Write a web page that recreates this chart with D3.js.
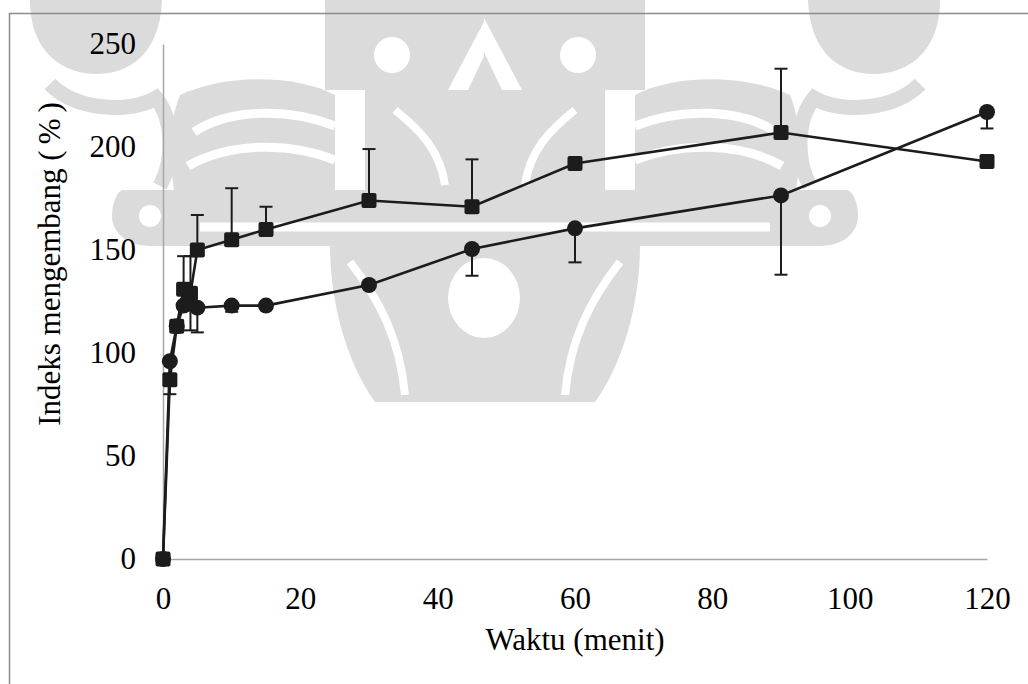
<!DOCTYPE html>
<html>
<head>
<meta charset="utf-8">
<script src="https://cdn.jsdelivr.net/npm/d3@7"></script>
<style>
  html, body { margin: 0; padding: 0; background: #fff; }
  svg { display: block; }
  text { font-family: "Liberation Serif", "Times New Roman", serif; fill: #000; }
</style>
</head>
<body>
<svg id="chart" width="1028" height="684"></svg>
<script>
// Swelling index over time, two formulations (mean with one-sided SD bars)
const times        = [0, 1, 2, 3, 4, 5, 10, 15, 30, 45, 60, 90, 120];
const squareValues = [0, 87, 113, 131, 129, 150, 155, 160, 174, 171, 192, 207, 193];
const squareErrors = [0, 0, 0, 16, 18, 17, 25, 11, 25, 23, 0, 31, 0];
const circleValues = [0, 96, 113, 123, 124, 122, 123, 123, 133, 150.5, 160.5, 176.5, 217];
const circleErrors = [0, 16, 0, 0, 13, 12, 3, 0, 0, 13, 16.5, 38.5, 8];

const xTicks = [0, 20, 40, 60, 80, 100, 120];
const yTicks = [0, 50, 100, 150, 200, 250];

const xTitle = "Waktu (menit)";
const yTitle = "Indeks mengembang ";
const yUnit  = ["(", "%", ")"];

const svg = d3.select("#chart");
const W = 1028, H = 684;
const FONT = 31;

const x = d3.scaleLinear().domain([0, 120]).range([163, 987]);
const y = d3.scaleLinear().domain([0, 250]).range([559, 44]);

// ---- light grey emblem behind the plot ----
const wm = svg.append("g").attr("class", "emblem");
function emblemHalf(g) {
  const grey = "#dbdbdb";
  g.append("path").attr("fill", grey)
    .attr("d", "M30,0 C30,55 66,74 96,74 C128,74 160,55 162,0 Z");
  g.append("path").attr("fill", "none").attr("stroke", grey).attr("stroke-width", 15)
    .attr("d", "M50,84 C75,110 130,114 156,98 C174,120 174,160 160,186");
  g.append("path").attr("fill", grey)
    .attr("d", "M180,95 C230,72 300,76 335,95 L335,190 L174,190 C168,150 170,120 180,95 Z");
  g.append("path").attr("fill", "none").attr("stroke", "#fff").attr("stroke-width", 9)
    .attr("d", "M194,132 C230,108 290,108 335,126");
  g.append("path").attr("fill", "none").attr("stroke", "#fff").attr("stroke-width", 9)
    .attr("d", "M188,166 C230,142 290,142 335,160");
  g.append("path").attr("fill", grey)
    .attr("d", "M122,190 L486,190 L486,246 L150,246 C126,246 112,232 112,216 C112,202 117,193 122,190 Z");
  g.append("circle").attr("cx", 150).attr("cy", 216).attr("r", 11).attr("fill", "#fff");
  g.append("path").attr("fill", "none").attr("stroke", "#fff").attr("stroke-width", 9)
    .attr("d", "M200,227 L486,227");
  g.append("rect").attr("x", 325).attr("y", 0).attr("width", 161).attr("height", 90).attr("fill", grey);
  g.append("rect").attr("x", 365).attr("y", 88).attr("width", 121).attr("height", 104).attr("fill", grey);
  g.append("circle").attr("cx", 392).attr("cy", 55).attr("r", 18).attr("fill", "#fff");
  g.append("path").attr("fill", "#fff")
    .attr("d", "M486,18 L448,90 L468,90 L486,52 Z");
  g.append("path").attr("fill", "none").attr("stroke", "#fff").attr("stroke-width", 8)
    .attr("d", "M395,110 C420,130 440,150 445,185");
  g.append("path").attr("fill", grey)
    .attr("d", "M330,244 L486,244 L486,402 L375,402 C345,360 330,300 330,244 Z");
  g.append("path").attr("fill", "none").attr("stroke", "#fff").attr("stroke-width", 8)
    .attr("d", "M350,262 C380,300 400,340 405,395");
}
emblemHalf(wm.append("g"));
emblemHalf(wm.append("g").attr("transform", "translate(970,0) scale(-1,1)"));
wm.append("ellipse").attr("cx", 484).attr("cy", 298).attr("rx", 36).attr("ry", 40).attr("fill", "#fff");

// ---- frame ----
svg.append("path")
  .attr("d", `M9.5,${H} L9.5,13.5 L${W},13.5`)
  .attr("fill", "none").attr("stroke", "#8c8c8c").attr("stroke-width", 1.5);

// ---- axes ----
const xAxis = d3.axisBottom(x).tickValues(xTicks).tickSize(0).tickPadding(30).tickFormat(d3.format("d"));
const yAxis = d3.axisLeft(y).tickValues(yTicks).tickSize(0).tickPadding(27).tickFormat(d3.format("d"));

const gx = svg.append("g").attr("transform", `translate(0,${y(0)})`).call(xAxis);
const gy = svg.append("g").attr("transform", `translate(${x(0)},0)`).call(yAxis);
[gx, gy].forEach(g => {
  g.select(".domain").attr("stroke", "#a6a6a6").attr("stroke-width", 1.5);
  g.selectAll(".tick text").attr("font-size", FONT).attr("font-family", "Liberation Serif").attr("fill", "#000");
});
gx.selectAll(".tick text").attr("dy", "0.66em");
gy.selectAll(".tick text").attr("dy", "0.32em");

svg.append("text").attr("x", 575).attr("y", 650).attr("text-anchor", "middle")
  .attr("font-size", FONT).text(xTitle);
const yt = svg.append("text").attr("transform", "translate(60,264) rotate(-90)").attr("text-anchor", "middle")
  .attr("font-size", FONT);
yt.append("tspan").text(yTitle);
yUnit.forEach((s, i) => yt.append("tspan").attr("dx", i === 0 ? 0 : 6).text(s));

// ---- series ----
const ink = "#1c1c1c";
const line = d3.line().x(d => x(d.t)).y(d => y(d.v));
function rows(vals, errs) {
  return times.map((t, i) => ({ t, v: vals[i], e: errs[i] }));
}
const circles = rows(circleValues, circleErrors);
const squares = rows(squareValues, squareErrors);

function drawSeries(data, dir, marker) {
  const g = svg.append("g");
  g.append("path").datum(data).attr("d", line)
    .attr("fill", "none").attr("stroke", ink).attr("stroke-width", 2.6);
  const eb = g.selectAll(".eb").data(data.filter(d => d.e > 0)).join("g");
  eb.append("line")
    .attr("x1", d => x(d.t)).attr("x2", d => x(d.t))
    .attr("y1", d => y(d.v)).attr("y2", d => y(d.v + dir * d.e))
    .attr("stroke", ink).attr("stroke-width", 2);
  eb.append("line")
    .attr("x1", d => x(d.t) - 6.5).attr("x2", d => x(d.t) + 6.5)
    .attr("y1", d => y(d.v + dir * d.e)).attr("y2", d => y(d.v + dir * d.e))
    .attr("stroke", ink).attr("stroke-width", 2);
  if (marker === "circle") {
    g.selectAll(".m").data(data).join("circle")
      .attr("cx", d => x(d.t)).attr("cy", d => y(d.v)).attr("r", 8).attr("fill", ink);
  } else {
    g.selectAll(".m").data(data).join("rect")
      .attr("x", d => x(d.t) - 7.5).attr("y", d => y(d.v) - 7.5)
      .attr("width", 15).attr("height", 15).attr("rx", 2).attr("fill", ink);
  }
}
drawSeries(circles, -1, "circle");
drawSeries(squares, 1, "square");
</script>
</body>
</html>
